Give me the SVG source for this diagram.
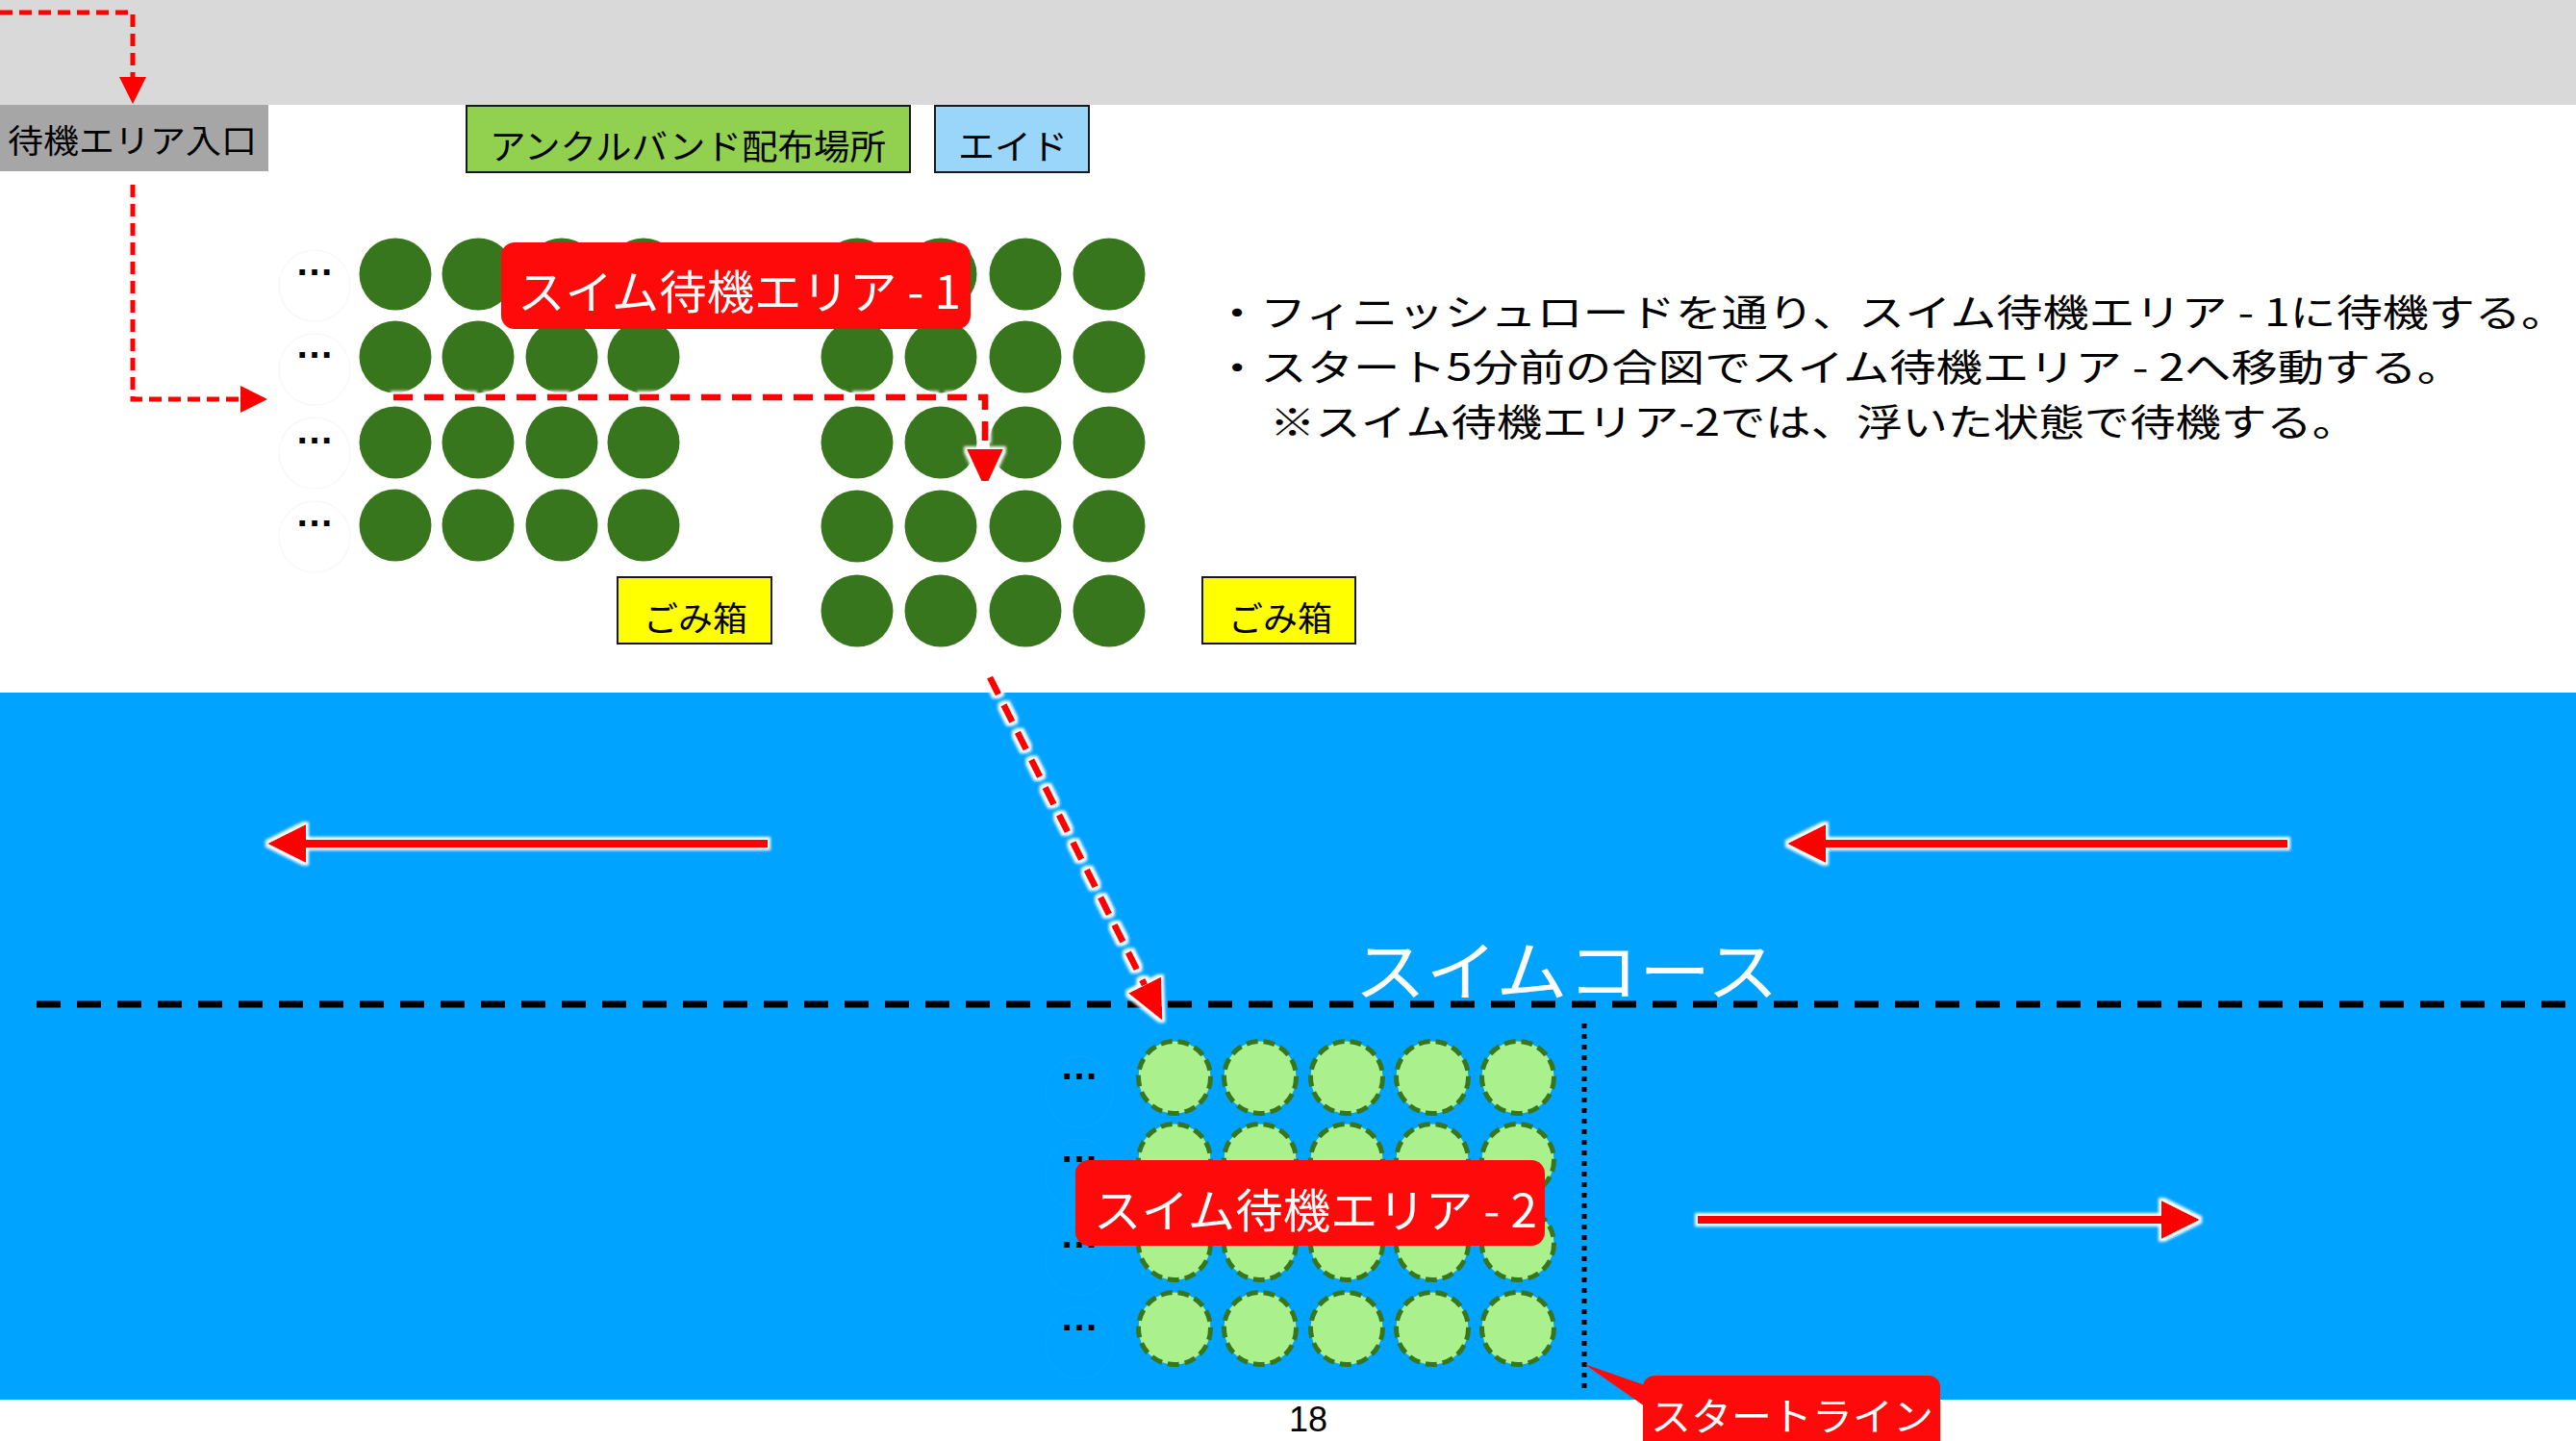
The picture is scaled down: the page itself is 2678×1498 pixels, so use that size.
<svg xmlns="http://www.w3.org/2000/svg" width="2678" height="1498" viewBox="0 0 2678 1498">
<style>
.jp{font-family:"Noto Sans CJK JP","Noto Sans",sans-serif;dominant-baseline:central}
.blk{fill:#000}
.wht{fill:#fff}
.dots{font-family:"Liberation Sans",Arial,sans-serif;font-weight:bold;font-size:40px;fill:#000;text-anchor:middle}
.dg{fill:#38761D}
.lg{fill:#AAF08C;stroke:#38761D;stroke-width:5;stroke-dasharray:12 6}
.faint{fill:none;stroke:#F8F8F8;stroke-width:1.5}
.faintb{fill:none;stroke:#08A6FF;stroke-width:1.5}
.box{stroke:#1a1a1a;stroke-width:2}
.rdash{fill:none;stroke:#FF0000;stroke-dasharray:13 7}
.rdash2{fill:none;stroke:#FF0000;stroke-width:7;stroke-dasharray:20 12}
</style>
<defs>
<filter id="glow" x="-20%" y="-60%" width="140%" height="220%">
<feMorphology in="SourceAlpha" operator="dilate" radius="3" result="d"/>
<feGaussianBlur in="d" stdDeviation="1.5" result="b"/>
<feFlood flood-color="#ffffff"/>
<feComposite in2="b" operator="in" result="g"/>
<feMerge><feMergeNode in="g"/><feMergeNode in="SourceGraphic"/></feMerge>
</filter>
<marker id="ahS" markerUnits="userSpaceOnUse" viewBox="0 0 28 28" markerWidth="28" markerHeight="28" refX="0" refY="14" orient="auto"><path d="M0,0 L28,14 L0,28 Z" fill="#FF0000"/></marker>
<marker id="ahL" markerUnits="userSpaceOnUse" viewBox="0 0 41 38" markerWidth="41" markerHeight="38" refX="0" refY="19" orient="auto"><path d="M0,0 L41,19 L0,38 Z" fill="#FF0000"/></marker>
</defs>

<!-- background -->
<rect x="0" y="0" width="2678" height="1498" fill="#fff"/>
<rect x="0" y="0" width="2678" height="109" fill="#D9D9D9"/>
<rect x="0" y="720" width="2678" height="735" fill="#00A3FF"/>

<g id="entrance">
<rect x="0" y="109" width="279" height="69" fill="#A6A6A6"/>
<text class="jp blk" x="8" y="144" font-size="34" textLength="259" lengthAdjust="spacingAndGlyphs">待機エリア入口</text>
</g>
<g id="ankleband">
<rect class="box" x="485" y="110" width="461" height="69" fill="#92D050"/>
<text class="jp blk" x="509" y="150" font-size="36" textLength="412" lengthAdjust="spacingAndGlyphs">アンクルバンド配布場所</text>
</g>
<g id="aid">
<rect class="box" x="972" y="110" width="160" height="69" fill="#99D6FA"/>
<text class="jp blk" x="996" y="150" font-size="36" textLength="114" lengthAdjust="spacingAndGlyphs">エイド</text>
</g>
<g id="trash1">
<rect class="box" x="642" y="600" width="160" height="69" fill="#FFFF00"/>
<text class="jp blk" x="669" y="640" font-size="35" textLength="108" lengthAdjust="spacingAndGlyphs">ごみ箱</text>
</g>
<g id="trash2">
<rect class="box" x="1250" y="600" width="159" height="69" fill="#FFFF00"/>
<text class="jp blk" x="1277" y="640" font-size="35" textLength="108" lengthAdjust="spacingAndGlyphs">ごみ箱</text>
</g>

<g id="waiting-area-1">
<g id="queue-dots-1">
<ellipse class="faint" cx="327" cy="297" rx="37" ry="37"/>
<ellipse class="faint" cx="327" cy="384" rx="37" ry="37"/>
<ellipse class="faint" cx="327" cy="471" rx="37" ry="37"/>
<ellipse class="faint" cx="327" cy="558" rx="37" ry="37"/>
<text class="dots" x="327" y="286">…</text>
<text class="dots" x="327" y="372">…</text>
<text class="dots" x="327" y="461">…</text>
<text class="dots" x="327" y="547">…</text>
</g>
<g id="swimmers-left">
<circle class="dg" cx="411" cy="285" r="37.5"/><circle class="dg" cx="497" cy="285" r="37.5"/><circle class="dg" cx="584" cy="285" r="37.5"/><circle class="dg" cx="669" cy="285" r="37.5"/>
<circle class="dg" cx="411" cy="371" r="37.5"/><circle class="dg" cx="497" cy="371" r="37.5"/><circle class="dg" cx="584" cy="371" r="37.5"/><circle class="dg" cx="669" cy="371" r="37.5"/>
<circle class="dg" cx="411" cy="460" r="37.5"/><circle class="dg" cx="497" cy="460" r="37.5"/><circle class="dg" cx="584" cy="460" r="37.5"/><circle class="dg" cx="669" cy="460" r="37.5"/>
<circle class="dg" cx="411" cy="546" r="37.5"/><circle class="dg" cx="497" cy="546" r="37.5"/><circle class="dg" cx="584" cy="546" r="37.5"/><circle class="dg" cx="669" cy="546" r="37.5"/>
</g>
<g id="swimmers-right">
<circle class="dg" cx="891" cy="285" r="37.5"/><circle class="dg" cx="978" cy="285" r="37.5"/><circle class="dg" cx="1066" cy="285" r="37.5"/><circle class="dg" cx="1153" cy="285" r="37.5"/>
<circle class="dg" cx="891" cy="371" r="37.5"/><circle class="dg" cx="978" cy="371" r="37.5"/><circle class="dg" cx="1066" cy="371" r="37.5"/><circle class="dg" cx="1153" cy="371" r="37.5"/>
<circle class="dg" cx="891" cy="460" r="37.5"/><circle class="dg" cx="978" cy="460" r="37.5"/><circle class="dg" cx="1066" cy="460" r="37.5"/><circle class="dg" cx="1153" cy="460" r="37.5"/>
<circle class="dg" cx="891" cy="547" r="37.5"/><circle class="dg" cx="978" cy="547" r="37.5"/><circle class="dg" cx="1066" cy="547" r="37.5"/><circle class="dg" cx="1153" cy="547" r="37.5"/>
<circle class="dg" cx="891" cy="635" r="37.5"/><circle class="dg" cx="978" cy="635" r="37.5"/><circle class="dg" cx="1066" cy="635" r="37.5"/><circle class="dg" cx="1153" cy="635" r="37.5"/>
</g>
</g>

<g id="label-area-1">
<rect x="521" y="252" width="488" height="90" rx="14" fill="#FF0A0A"/>
<text class="jp wht" x="538" y="300" font-size="48" textLength="461" lengthAdjust="spacingAndGlyphs">スイム待機エリア - 1</text>
</g>

<g id="instructions">
<text class="jp blk" x="1262" y="322" font-size="39" textLength="1407" lengthAdjust="spacingAndGlyphs">・フィニッシュロードを通り、スイム待機エリア - 1に待機する。</text>
<text class="jp blk" x="1262" y="379" font-size="39" textLength="1299" lengthAdjust="spacingAndGlyphs">・スタート5分前の合図でスイム待機エリア - 2へ移動する。</text>
<text class="jp blk" x="1320" y="436" font-size="39" textLength="1131" lengthAdjust="spacingAndGlyphs">※スイム待機エリア-2では、浮いた状態で待機する。</text>
</g>

<g id="course">
<line x1="38" y1="1044" x2="2678" y2="1044" stroke="#000" stroke-width="7" stroke-dasharray="25 17"/>
<text class="jp wht" x="1408" y="1005" font-size="68" textLength="441" lengthAdjust="spacingAndGlyphs">スイムコース</text>
</g>

<g id="waiting-area-2">
<g id="queue-dots-2">
<ellipse class="faintb" cx="1122" cy="1135" rx="35" ry="37"/>
<ellipse class="faintb" cx="1122" cy="1221" rx="35" ry="37"/>
<ellipse class="faintb" cx="1122" cy="1309" rx="35" ry="37"/>
<ellipse class="faintb" cx="1122" cy="1396" rx="35" ry="37"/>
<text class="dots" x="1122" y="1122">…</text>
<text class="dots" x="1122" y="1208">…</text>
<text class="dots" x="1122" y="1297">…</text>
<text class="dots" x="1122" y="1383">…</text>
</g>
<g id="swimmers-floating">
<circle class="lg" cx="1221" cy="1120" r="37.5"/><circle class="lg" cx="1310" cy="1120" r="37.5"/><circle class="lg" cx="1400" cy="1120" r="37.5"/><circle class="lg" cx="1489" cy="1120" r="37.5"/><circle class="lg" cx="1578" cy="1120" r="37.5"/>
<circle class="lg" cx="1221" cy="1206" r="37.5"/><circle class="lg" cx="1310" cy="1206" r="37.5"/><circle class="lg" cx="1400" cy="1206" r="37.5"/><circle class="lg" cx="1489" cy="1206" r="37.5"/><circle class="lg" cx="1578" cy="1206" r="37.5"/>
<circle class="lg" cx="1221" cy="1293" r="37.5"/><circle class="lg" cx="1310" cy="1293" r="37.5"/><circle class="lg" cx="1400" cy="1293" r="37.5"/><circle class="lg" cx="1489" cy="1293" r="37.5"/><circle class="lg" cx="1578" cy="1293" r="37.5"/>
<circle class="lg" cx="1221" cy="1381" r="37.5"/><circle class="lg" cx="1310" cy="1381" r="37.5"/><circle class="lg" cx="1400" cy="1381" r="37.5"/><circle class="lg" cx="1489" cy="1381" r="37.5"/><circle class="lg" cx="1578" cy="1381" r="37.5"/>
</g>
</g>

<g id="label-area-2">
<rect x="1118" y="1206" width="488" height="89" rx="14" fill="#FF0A0A"/>
<text class="jp wht" x="1137" y="1255" font-size="48" textLength="461" lengthAdjust="spacingAndGlyphs">スイム待機エリア - 2</text>
</g>

<g id="start-line">
<line x1="1647" y1="1064" x2="1647" y2="1443" stroke="#000" stroke-width="5" stroke-dasharray="5 6"/>
</g>

<g id="label-start-line">
<path d="M1647,1418 L1710,1440 L1710,1462 Z" fill="#FF0A0A"/>
<rect x="1708" y="1430" width="309" height="100" rx="12" fill="#FF0A0A"/>
<text class="jp wht" x="1716" y="1470" font-size="40" textLength="294" lengthAdjust="spacingAndGlyphs">スタートライン</text>
</g>

<g id="page-number">
<text x="1340" y="1488" font-family="Liberation Sans, Arial, sans-serif" font-size="36" fill="#000">18</text>
</g>

<g id="connectors">
<path class="rdash" stroke-width="5" d="M0,13 H138 V80" marker-end="url(#ahS)"/>
<path class="rdash" stroke-width="5" d="M138,192 V415 H250" marker-end="url(#ahS)"/>
<g filter="url(#glow)">
<path class="rdash2" d="M409,413 H1024 V467" marker-end="url(#ahL)"/>
</g>
<g filter="url(#glow)">
<path class="rdash2" d="M1029,704 L1190,1024" marker-end="url(#ahL)"/>
</g>
<g filter="url(#glow)" fill="#FF0000">
<path d="M278,877 L318,857 L318,873 L798,873 L798,881 L318,881 L318,897 Z"/>
<path d="M1858,877 L1898,857 L1898,873 L2378,873 L2378,881 L1898,881 L1898,897 Z"/>
<path d="M2287,1268 L2247,1248 L2247,1264 L1765,1264 L1765,1272 L2247,1272 L2247,1288 Z"/>
</g>
</g>
</svg>
